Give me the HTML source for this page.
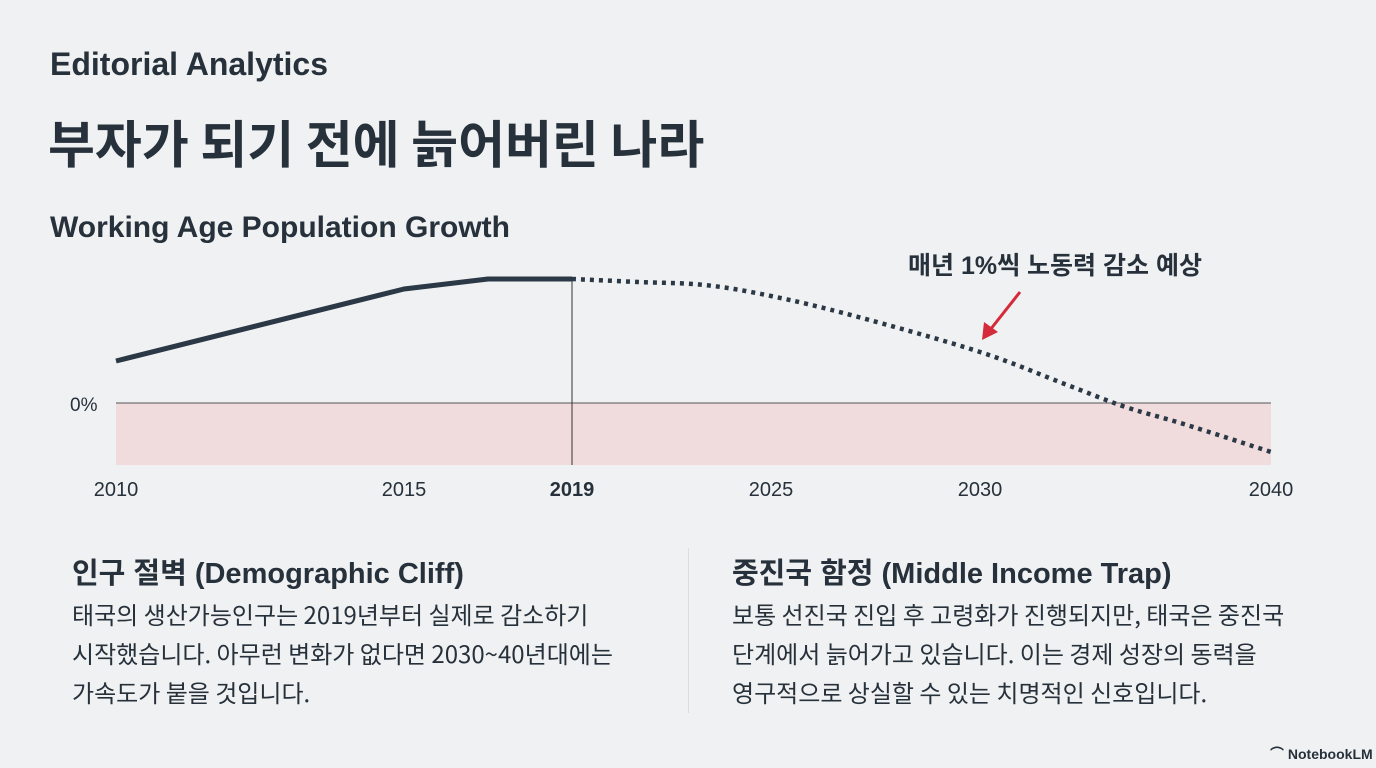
<!DOCTYPE html>
<html><head><meta charset="utf-8"><style>
body{margin:0;width:1376px;height:768px;background:#f0f1f2;font-family:"Liberation Sans","Noto Sans CJK KR",sans-serif;color:#27313b;position:relative;overflow:hidden}
.a{position:absolute;white-space:nowrap}
</style></head><body>
<div class="a" style="left:50px;top:46px;font-size:32px;font-weight:bold">Editorial Analytics</div>
<div class="a" style="left:48px;top:104px;font-size:51px;font-weight:bold;font-family:'Noto Sans CJK KR',sans-serif">부자가 되기 전에 늙어버린 나라</div>
<div class="a" style="left:50px;top:211px;font-size:30px;font-weight:bold">Working Age Population Growth</div>
<svg class="a" style="left:0;top:0" width="1376" height="520" id="chart"></svg>
<div class="a" style="left:688px;top:548px;width:1px;height:165px;background:#dcdddf"></div>
<div class="a" style="left:72px;top:550px;font-size:29px;font-weight:bold">인구 절벽 (Demographic Cliff)</div>
<div class="a" style="left:72px;top:594px;font-size:24px;line-height:39px;font-family:'Noto Sans CJK KR',sans-serif">태국의 생산가능인구는 2019년부터 실제로 감소하기<br>시작했습니다. 아무런 변화가 없다면 2030~40년대에는<br>가속도가 붙을 것입니다.</div>
<div class="a" style="left:732px;top:550px;font-size:29px;font-weight:bold">중진국 함정 (Middle Income Trap)</div>
<div class="a" style="left:732px;top:594px;font-size:24px;line-height:39px;font-family:'Noto Sans CJK KR',sans-serif">보통 선진국 진입 후 고령화가 진행되지만, 태국은 중진국<br>단계에서 늙어가고 있습니다. 이는 경제 성장의 동력을<br>영구적으로 상실할 수 있는 치명적인 신호입니다.</div>
<div class="a" style="left:1270px;top:744px;font-size:14px;font-weight:bold">⌒ NotebookLM</div>
<script>
const tickYears=[2010,2015,2019,2025,2030,2040];
const tickLabels=["2010","2015","2019","2025","2030","2040"];
const actualYears=[2010,2015,2017,2019];
const actualValues=[0.84,2.28,2.48,2.48];
const projYears=[2019,2021,2023,2025,2027,2030,2033,2035,2037,2040];
const projValues=[2.48,2.42,2.36,2.14,1.74,1.02,0.36,-0.08,-0.42,-0.98];
const tickPx=[116,404,572,771,980,1271];
function X(yr){for(let i=0;i<tickYears.length-1;i++){if(yr<=tickYears[i+1]){const t=(yr-tickYears[i])/(tickYears[i+1]-tickYears[i]);return tickPx[i]+t*(tickPx[i+1]-tickPx[i]);}}return tickPx[tickPx.length-1];}
function Y(v){return 403-v*50;}
const svg=document.getElementById('chart');const NS='http://www.w3.org/2000/svg';
function mk(t,a){const e=document.createElementNS(NS,t);for(const k in a)e.setAttribute(k,a[k]);svg.appendChild(e);return e;}
let e;
e=mk('rect',{x:116,y:Y(0),width:1155,height:62,fill:'#f0dcdd'});


e=mk('line',{x1:116,x2:1271,y1:Y(0),y2:Y(0),stroke:'#555',"stroke-width":1});


e=mk('line',{x1:X(2019),x2:X(2019),y1:277,y2:465,stroke:'#333',"stroke-width":1});


e=mk('text',{x:70,y:Y(0)+8,"font-size":19,fill:'#27313b'});e.textContent='0%';


tickYears.forEach((yr,i)=>{const t=mk('text',{x:X(yr),y:496,"text-anchor":"middle","font-size":20,fill:'#27313b',"font-weight":yr===2019?'bold':'normal'});t.textContent=tickLabels[i];

});
function path(xs,vs){let p=[];for(let i=0;i<xs.length;i++)p.push([X(xs[i]),Y(vs[i])]);let d='M'+p[0][0]+','+p[0][1];for(let i=0;i<p.length-1;i++){const p0=p[Math.max(0,i-1)],p1=p[i],p2=p[i+1],p3=p[Math.min(p.length-1,i+2)];d+=' C'+(p1[0]+(p2[0]-p0[0])/6)+','+(p1[1]+(p2[1]-p0[1])/6)+' '+(p2[0]-(p3[0]-p1[0])/6)+','+(p2[1]-(p3[1]-p1[1])/6)+' '+p2[0]+','+p2[1];}return d;}
let d='M'+actualYears.map((y,i)=>X(y)+','+Y(actualValues[i])).join(' L');
e=mk('path',{d:d,fill:'none',stroke:'#2b3845',"stroke-width":5,"stroke-linejoin":"round"});


e=mk('path',{d:path(projYears,projValues),fill:'none',stroke:'#2b3845',"stroke-width":4.5,"stroke-dasharray":"4 5"});


e=mk('text',{x:1055,y:274,"text-anchor":"middle","font-size":25,"font-weight":"bold",fill:'#27313b'});e.textContent='매년 1%씩 노동력 감소 예상';


e=mk('line',{x1:1020,y1:292,x2:990,y2:330,stroke:'#d42a3a',"stroke-width":3});


e=mk('polygon',{points:'982,340 984,322 998,332',fill:'#d42a3a'});


</script>
</body></html>
